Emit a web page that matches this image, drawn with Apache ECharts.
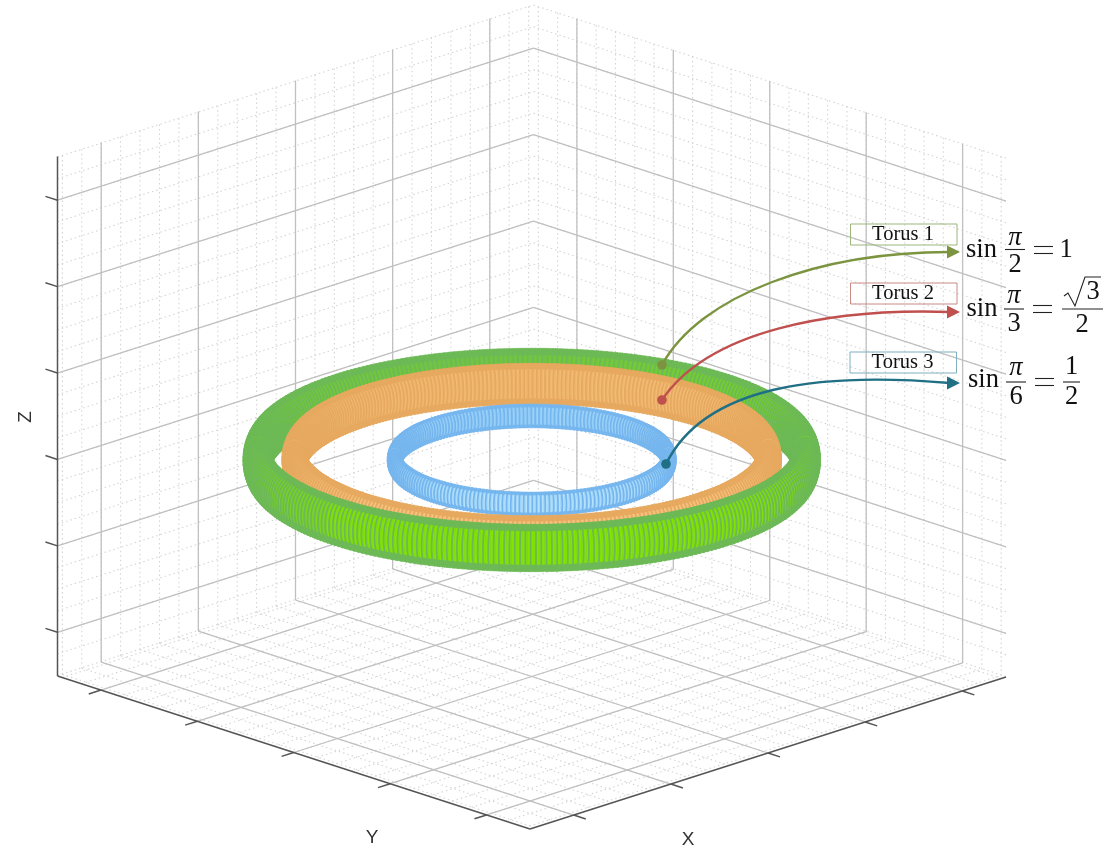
<!DOCTYPE html>
<html><head><meta charset="utf-8">
<style>html,body{margin:0;padding:0;background:#fff}#c{width:1111px;height:863px}</style>
<script src="https://cdn.jsdelivr.net/npm/echarts@6/dist/echarts.min.js"></script>
</head><body><div id="c"></div>
<script>
// ---- axis data
const xTicks = [-4, -2, 0, 2, 4];
const yTicks = [-4, -2, 0, 2, 4];
const zTicks = [-2, -1.2, -0.4, 0.4, 1.2, 2];
const xMinor = [-4.8,-4.4,-4,-3.6,-3.2,-2.8,-2.4,-2,-1.6,-1.2,-0.8,-0.4,0,0.4,0.8,1.2,1.6,2,2.4,2.8,3.2,3.6,4,4.4,4.8];
const yMinor = xMinor;
const zMinor = [-2.4,-2.2,-2,-1.8,-1.6,-1.4,-1.2,-1,-0.8,-0.6,-0.4,-0.2,0,0.2,0.4,0.6,0.8,1,1.2,1.4,1.6,1.8,2,2.2,2.4];
const horizLimit = 4.9, vertLimit = 2.405;
// ---- tori: main radius, tube radius, height
const torusNames = ['Torus 1', 'Torus 2', 'Torus 3'];
const torusMainRadius = [4, 3.46, 2];
const torusTubeRadius = [0.215, 0.186, 0.108];
const torusHeight = [-0.4, -0.4, -0.4];
const torusRingCount = [340, 340, 210];
const torusRimColor = ['#6cb956', '#e6a95f', '#76b6ee'];
const torusFrontFill = ['#84e400', '#f6c684', '#b4e2fc'];
const torusBackFill = ['#70c24a', '#f1b870', '#98d0f7'];

// view of the 3D box on the page
const F = [530, 829], U = [476, -152], V = [-472.5, -153], W = [0, -519.5];
const sinEl = 0.319, cosEl = 0.948, radialScale = 68.7, heightScale = 114;
function project(x, y, z) {
  const u = 0.5 + x / (2 * horizLimit), v = 0.5 + y / (2 * horizLimit), w = 0.5 + z / (2 * vertLimit);
  return [F[0] + U[0] * u + V[0] * v + W[0] * w, F[1] + U[1] * u + V[1] * v + W[1] * w];
}
const L = horizLimit, H = vertLimit;
const minorSeg = [], majorSeg = [], axisSeg = [];
xMinor.forEach(x => { minorSeg.push([x,L,-H, x,L,H]); minorSeg.push([x,-L,-H, x,L,-H]); });
yMinor.forEach(y => { minorSeg.push([L,y,-H, L,y,H]); minorSeg.push([-L,y,-H, L,y,-H]); });
zMinor.forEach(z => { minorSeg.push([-L,L,z, L,L,z]); minorSeg.push([L,-L,z, L,L,z]); });
xTicks.forEach(x => { majorSeg.push([x,L,-H, x,L,H]); majorSeg.push([x,-L,-H, x,L,-H]); });
yTicks.forEach(y => { majorSeg.push([L,y,-H, L,y,H]); majorSeg.push([-L,y,-H, L,y,-H]); });
zTicks.forEach(z => { majorSeg.push([-L,L,z, L,L,z]); majorSeg.push([L,-L,z, L,L,z]); });
axisSeg.push([-L,L,-H, -L,L,H]);
axisSeg.push([-L,-L,-H, -L,L,-H]);
axisSeg.push([-L,-L,-H, L,-L,-H]);
const tk = 0.25;
xTicks.forEach(x => axisSeg.push([x,-L,-H, x,-L-tk,-H]));
yTicks.forEach(y => axisSeg.push([-L,y,-H, -L-tk,y,-H]));
zTicks.forEach(z => axisSeg.push([-L,L,z, -L,L+tk,z]));

function segSeries(data, style, z) {
  return { type: 'custom', coordinateSystem: 'cartesian2d', silent: true, animation: false, progressive: 0, z: z,
    data: data, encode: { x: 0, y: 1 }, clip: false,
    renderItem(p, api) {
      const a = project(api.value(0), api.value(1), api.value(2));
      const b = project(api.value(3), api.value(4), api.value(5));
      const pa = api.coord(a), pb = api.coord(b);
      return { type: 'line', shape: { x1: pa[0], y1: pa[1], x2: pb[0], y2: pb[1] }, style: style };
    } };
}
function mix(c1, c2, t) {
  const h = c => [1,3,5].map(i => parseInt(c.substr(i,2),16));
  const a = h(c1), b = h(c2);
  return 'rgb(' + a.map((v,i) => Math.round(v + (b[i]-v)*t)).join(',') + ')';
}
function tubePoint(api, k, th, ph) {
  const R = torusMainRadius[k], r = torusTubeRadius[k], rad = R + r * Math.cos(ph);
  return api.coord(project(rad * Math.cos(th), rad * Math.sin(th), torusHeight[k] + r * Math.sin(ph)));
}
function arcMiddle(th) {
  const q = -(Math.cos(th) + Math.sin(th)) / Math.SQRT2;
  return Math.atan2(sinEl / heightScale, q * cosEl / radialScale);
}
function visibleArc(api, k, th, mid, inset) {
  const pts = [];
  for (let j = -7; j <= 7; j++) pts.push(tubePoint(api, k, th, mid + j / 7 * (Math.PI / 2 - (inset || 0))));
  return pts;
}
// how much of the lighter inner colour shows between the rings, by ring angle
function strength(th) {
  const d = ((th * 180 / Math.PI) % 360 + 360) % 360;
  if (d >= 180 && d < 270) return 1;
  if (d >= 270 && d < 360) return 1 - (d - 270) / 90 * 0.6;
  if (d < 60) return 0.4 - d / 60 * 0.3;
  if (d < 135) return 0.1 + (d - 60) / 75 * 0.3;
  return 0.4 + (d - 135) / 45 * 0.3;
}
function ringOrder(k, front) {
  const n = torusRingCount[k], out = [];
  for (let i = 0; i < n; i++) {
    const th = (i + 0.5) / n * 2 * Math.PI, d = Math.cos(th) + Math.sin(th);
    if (front ? d <= 0 : d > 0) out.push([th, d]);
  }
  return out.sort((a, b) => b[1] - a[1]);
}
function torusPart(k, front) {
  const data = ringOrder(k, front), step = 2 * Math.PI / torusRingCount[k];
  const base = { type: 'custom', coordinateSystem: 'cartesian2d', silent: true, animation: false, progressive: 0, clip: false, z: 5, data, encode: { x: 0, y: 1 } };
  return [Object.assign({}, base, {
    renderItem(p, api) {
      const th = api.value(0), mid = arcMiddle(th);
      const a = visibleArc(api, k, th - step * 0.55, mid), b = visibleArc(api, k, th + step * 0.55, mid).reverse();
      const c = torusRimColor[k];
      const a2 = visibleArc(api, k, th - step * 0.55, mid, 0.8), b2 = visibleArc(api, k, th + step * 0.55, mid, 0.8).reverse();
      const f = mix(torusBackFill[k], torusFrontFill[k], strength(th));
      return { type: 'group', children: [
        { type: 'polygon', shape: { points: a.concat(b) }, style: { fill: c, stroke: c, lineWidth: 0.5, lineJoin: 'round' } },
        { type: 'polygon', shape: { points: a2.concat(b2) }, style: { fill: f, stroke: f, lineWidth: 0.5, lineJoin: 'round' } }
      ] };
    }
  }), Object.assign({}, base, {
    renderItem(p, api) {
      const th = api.value(0);
      return { type: 'polyline', shape: { points: visibleArc(api, k, th, arcMiddle(th), 0.06) }, style: { fill: 'none', stroke: torusRimColor[k], lineWidth: 1.8, lineJoin: 'round', lineCap: 'butt' } };
    }
  })];
}
const series = [
  segSeries(minorSeg, { stroke: '#d4d4d4', lineWidth: 1.1, lineDash: [1.5, 3], fill: null }, 1),
  segSeries(majorSeg, { stroke: '#c0c0c0', lineWidth: 1.3, fill: null }, 2),
  segSeries(axisSeg, { stroke: '#555', lineWidth: 1.5, fill: null }, 3),
  ...torusPart(0, false), ...torusPart(1, false), ...torusPart(2, false),
  ...torusPart(2, true), ...torusPart(1, true), ...torusPart(0, true)
];
// ---- annotations
const serif = '"Liberation Serif", serif';
const T = (x, y, s, size, extra) => ({ type: 'text', z: 50, style: Object.assign({ x, y, text: s, fontSize: size || 26.5, fontFamily: serif, fill: '#111', align: 'center', verticalAlign: 'middle' }, extra || {}) });
const Bar = (x1, x2, y) => ({ type: 'line', z: 50, shape: { x1, y1: y, x2, y2: y }, style: { stroke: '#222', lineWidth: 1.1 } });
const Eq = (x1, x2, y) => [Bar(x1, x2, y - 3.5), Bar(x1, x2, y + 3.5)];
const Box = (x, y, c) => ({ type: 'rect', z: 50, shape: { x, y, width: 106.5, height: 21 }, style: { fill: 'none', stroke: c, lineWidth: 1 } });
function Arrow(c, dot, c1, c2, end) {
  const tip = [end[0] + 10, end[1]];
  return [
    { type: 'bezierCurve', z: 51, shape: { x1: dot[0], y1: dot[1], cpx1: c1[0], cpy1: c1[1], cpx2: c2[0], cpy2: c2[1], x2: end[0], y2: end[1] }, style: { stroke: c, lineWidth: 2.4, fill: 'none' } },
    { type: 'circle', z: 52, shape: { cx: dot[0], cy: dot[1], r: 4.8 }, style: { fill: c } },
    { type: 'polygon', z: 52, shape: { points: [[end[0]-3, end[1]-6.5],[tip[0], end[1]],[end[0]-3, end[1]+6.5]] }, style: { fill: c } }
  ];
}
const pi = { fontStyle: 'italic' };
const sans = { fontFamily: '"Liberation Sans"', fill: '#333' };
const graphic = [
  Box(850.5, 224, '#9bb57a'), T(903, 235, torusNames[0], 20.5),
  Box(850.5, 283, '#c98a85'), T(903, 294, torusNames[1], 20.5),
  Box(850, 352, '#7fb0bf'), T(902.5, 363, torusNames[2], 20.5),
  ...Arrow('#7c9440', [662, 365], [700, 295], [820, 252], [950, 252]),
  ...Arrow('#c0504d', [662, 400], [708, 331], [830, 308], [950, 312]),
  ...Arrow('#1f6f85', [666, 464], [705, 385], [820, 372], [950, 383]),
  T(981.5, 250, 'sin'), T(1015, 238, 'π', 26.5, pi), Bar(1005, 1025, 249.5), T(1015, 265, '2'), ...Eq(1034, 1053, 250), T(1066, 250, '1'),
  T(982, 309, 'sin'), T(1014, 296, 'π', 26.5, pi), Bar(1004, 1024, 309), T(1014, 324, '3'), ...Eq(1033, 1052, 309),
  Bar(1062, 1103, 309), T(1093, 292, '3'), T(1082, 325, '2'),
  { type: 'polyline', z: 50, shape: { points: [[1064,296],[1068,293],[1075,306],[1085,277],[1101,277]] }, style: { stroke: '#222', lineWidth: 1.1, fill: 'none' } },
  T(983.5, 380, 'sin'), T(1016, 368, 'π', 26.5, pi), Bar(1006, 1026, 382), T(1016, 397, '6'), ...Eq(1035, 1054, 382),
  T(1071.5, 367, '1'), Bar(1063, 1080, 382), T(1071.5, 397, '2'),
  T(372, 838, 'Y', 19, sans),
  T(688, 840, 'X', 19, sans),
  { type: 'text', z: 50, x: 26, y: 417, rotation: Math.PI / 2, style: { x: 0, y: 0, text: 'Z', fontSize: 19, fontFamily: '"Liberation Sans"', fill: '#333', align: 'center', verticalAlign: 'middle' } }
];
const chart = echarts.init(document.getElementById('c'), null, { renderer: 'canvas' });
chart.setOption({
  animation: false, backgroundColor: '#fff',
  grid: { left: 0, right: 0, top: 0, bottom: 0 },
  xAxis: { type: 'value', min: 0, max: 1111, show: false },
  yAxis: { type: 'value', min: 0, max: 863, inverse: true, show: false },
  series, graphic
});
</script></body></html>
